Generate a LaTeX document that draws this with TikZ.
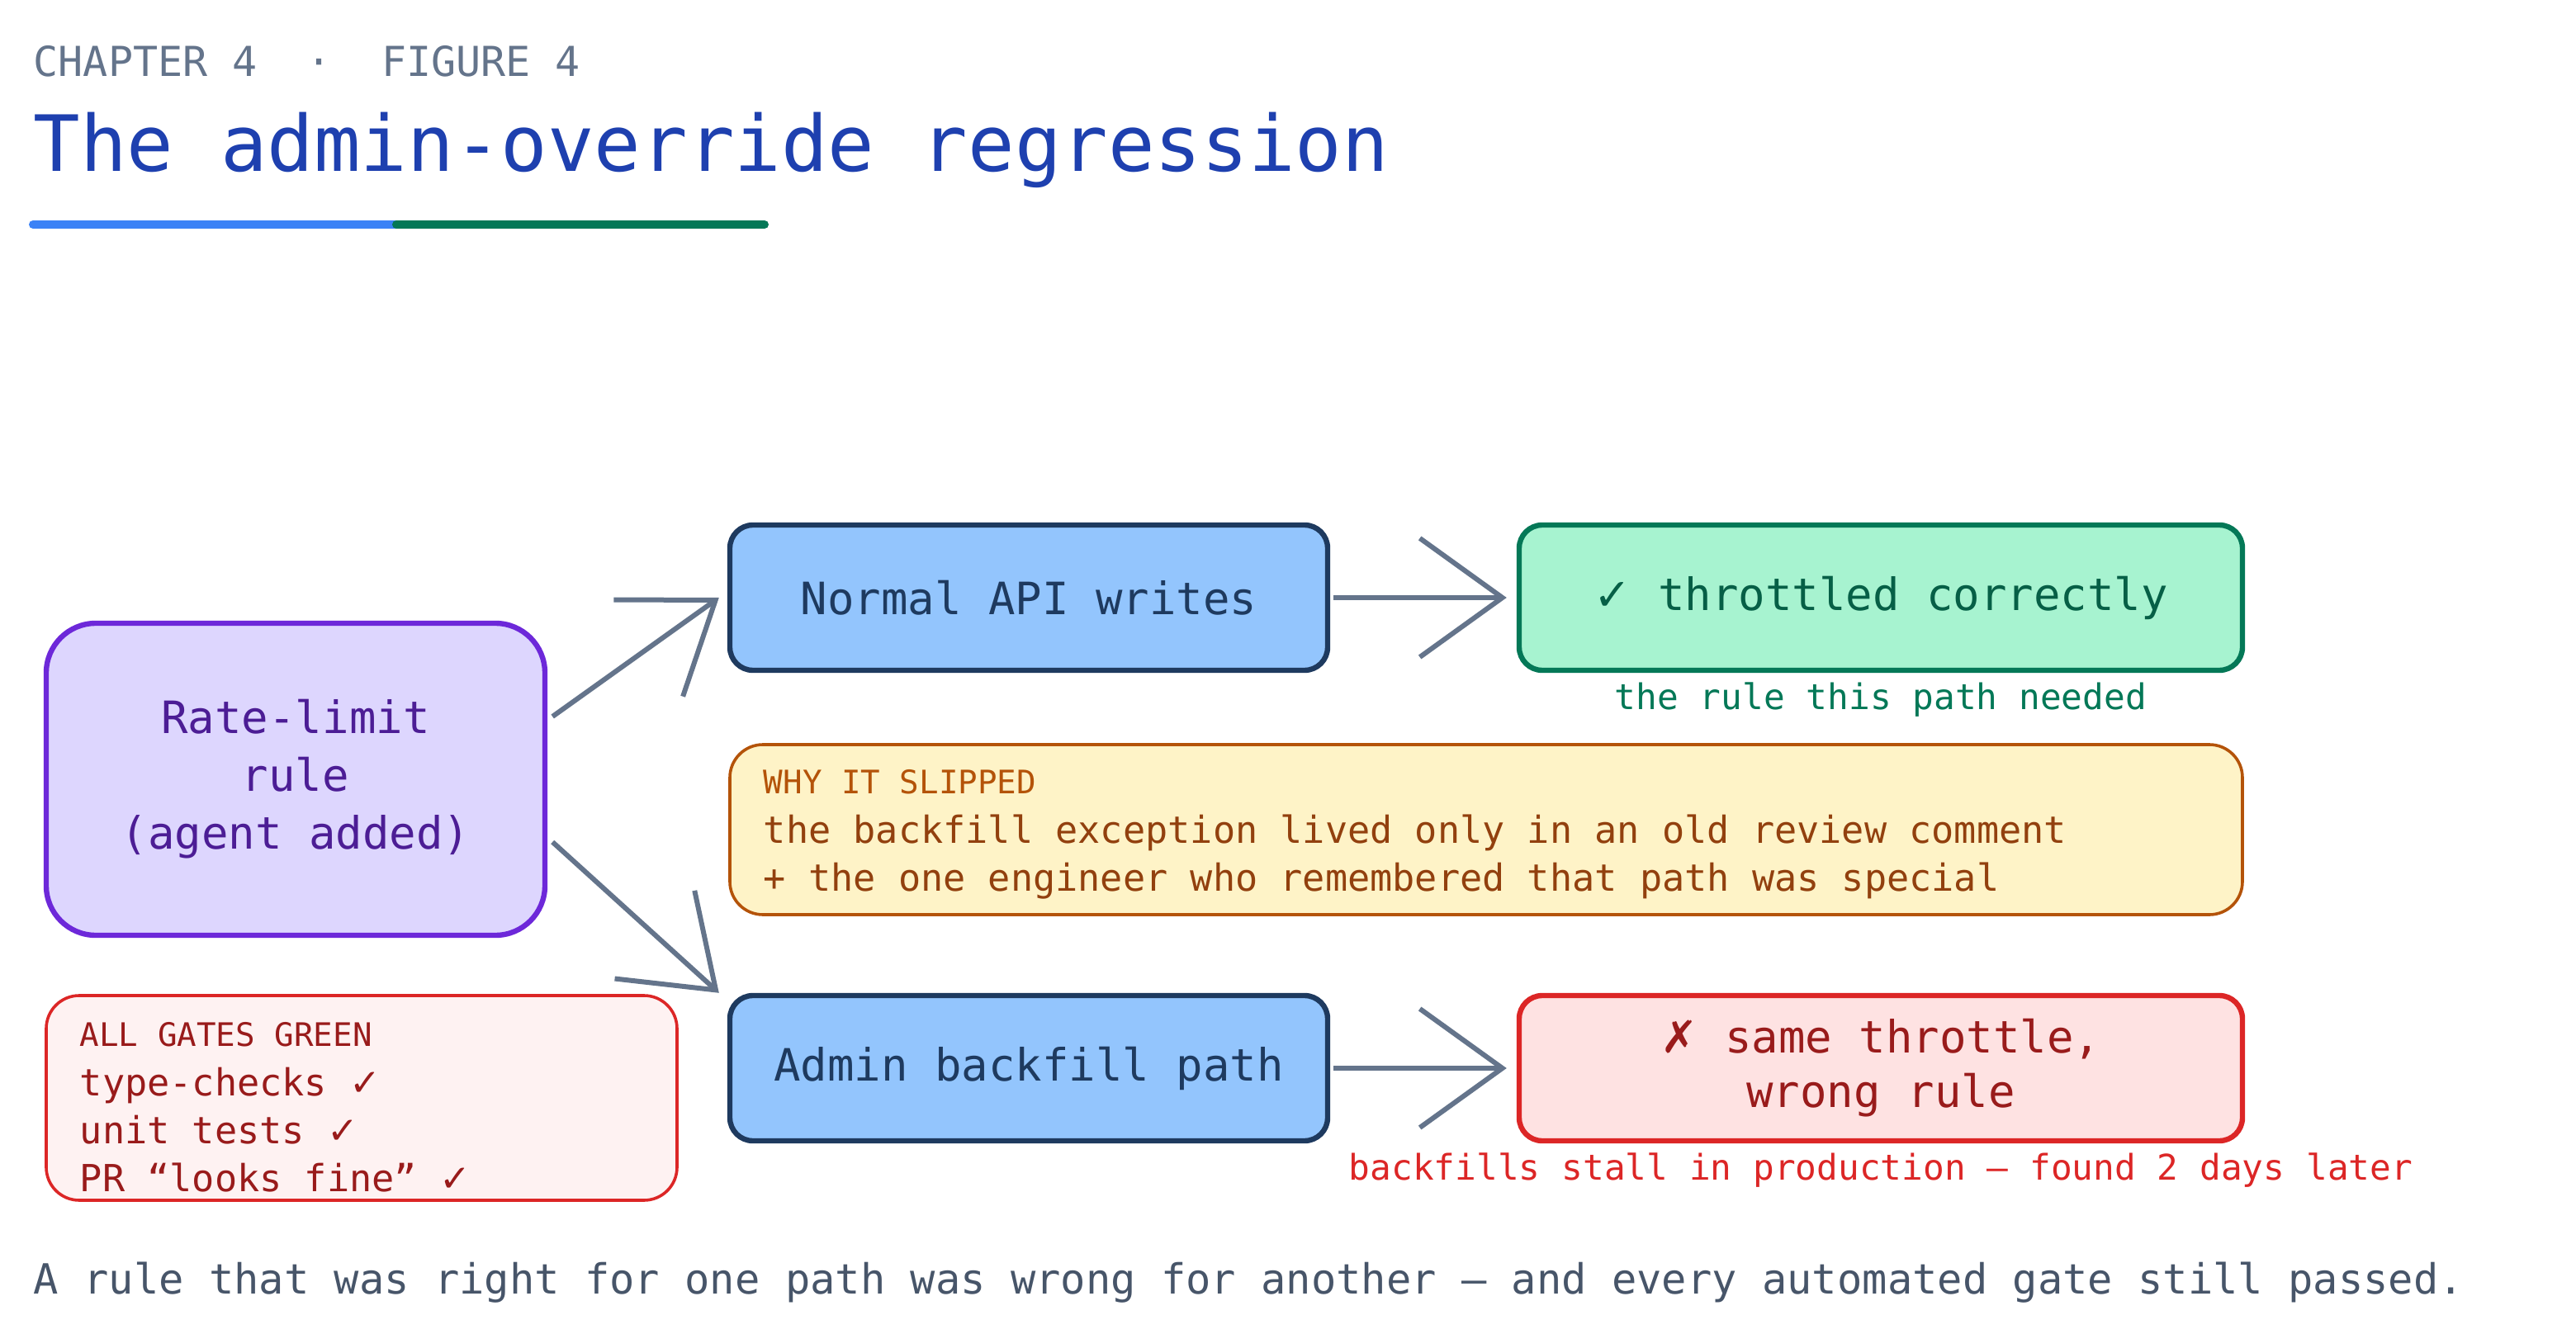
\documentclass[tikz,border=0pt]{standalone}
\usepackage{fontspec}
\setmonofont{DejaVu Sans Mono}
\newfontfamily\symfont{DejaVu Sans}
\usetikzlibrary{arrows.meta,positioning,calc}
\definecolor{inkgray}{HTML}{64748B}
\definecolor{titleblue}{HTML}{1E40AF}
\definecolor{capgray}{HTML}{475569}
\definecolor{rulefill}{HTML}{DDD6FE}
\definecolor{ruledraw}{HTML}{6D28D9}
\definecolor{ruletext}{HTML}{4C1D95}
\definecolor{pathfill}{HTML}{93C5FD}
\definecolor{pathdraw}{HTML}{1E3A5F}
\definecolor{okfill}{HTML}{A7F3D0}
\definecolor{okdraw}{HTML}{047857}
\definecolor{oktext}{HTML}{065F46}
\definecolor{badfill}{HTML}{FEE2E2}
\definecolor{baddraw}{HTML}{DC2626}
\definecolor{badtext}{HTML}{991B1B}
\definecolor{whyfill}{HTML}{FEF3C7}
\definecolor{whydraw}{HTML}{B45309}
\definecolor{whytext}{HTML}{92400E}
\definecolor{gatefill}{HTML}{FEF2F2}
\definecolor{lineblue}{HTML}{3B82F6}
\newcommand{\fs}[2]{\fontsize{#1}{#2}\selectfont}
\newcommand{\ck}{{\symfont ✓}}

\tikzset{
  box/.style={rounded corners=7pt, line width=1.6pt, font=\ttfamily\fs{13.5}{16.5}, align=center, inner sep=0pt},
  pathbox/.style={box, fill=pathfill, draw=pathdraw, text=pathdraw, minimum width=181pt, minimum height=44pt},
  note/.style={rounded corners=10pt, line width=0.9pt, minimum height=0pt},
  flow/.style={draw=inkgray, line width=1.5pt, -{Straight Barb[length=25pt,width=36pt,line width=1.5pt]}},
}

\begin{document}
\begin{tikzpicture}[x=0.5pt,y=0.5pt]
\useasboundingbox (0,0) rectangle (1560,-808);

% Heading
\node[anchor=west, text=inkgray, font=\ttfamily\fs{12.5}{15}, inner sep=0pt] (chapter) at (20,-37) {CHAPTER 4 \ · \ FIGURE 4};
\node[anchor=west, text=titleblue, font=\ttfamily\fs{23.5}{28}, inner sep=0pt] (title) at (20,-91) {The admin-override regression};
\draw[line width=2.5pt, line cap=round, color=lineblue] (20,-136) -- (240,-136);
\draw[line width=2.5pt, line cap=round, color=okdraw] (240,-136) -- (463,-136);

% Boxes
\node[box, rounded corners=15pt, fill=rulefill, draw=ruledraw, text=ruletext, minimum width=151pt, minimum height=94.5pt, font=\ttfamily\fs{13.5}{17.5}] (rule) at (179,-472) {Rate-limit\\rule\\(agent added)};
\node[pathbox] (normal) at (623,-362) {Normal API writes};
\node[pathbox] (admin) at (623,-647) {Admin backfill path};
\node[box, fill=okfill, draw=okdraw, text=oktext, minimum width=219pt, minimum height=44pt] (ok) at (1139,-362) {\ck{} throttled correctly};
\node[box, fill=badfill, draw=baddraw, text=badtext, minimum width=219pt, minimum height=44pt, font=\ttfamily\fs{13.5}{16.5}] (bad) at (1139,-647) {{\symfont ✗} same throttle,\\wrong rule};

% Side notes
\node[note, fill=whyfill, draw=whydraw, minimum width=458pt, minimum height=51.5pt] (why) at (900,-502.5) {};
\node[anchor=north west, inner sep=0pt, align=left, text=whydraw, font=\ttfamily\fs{9.8}{12}] (whyhead) at (462,-466) {WHY IT SLIPPED};
\node[anchor=north west, inner sep=0pt, align=left, text=whytext, font=\ttfamily\fs{11.3}{14.5}] (whybody) at (462,-493) {the backfill exception lived only in an old review comment\\+ the one engineer who remembered that path was special};

\node[note, fill=gatefill, draw=baddraw, minimum width=191pt, minimum height=62pt] (gates) at (219,-665) {};
\node[anchor=north west, inner sep=0pt, align=left, text=badtext, font=\ttfamily\fs{9.8}{12}] (gatehead) at (48,-619) {ALL GATES GREEN};
\node[anchor=north west, inner sep=0pt, align=left, text=badtext, font=\ttfamily\fs{11.3}{14.5}] (gatebody) at (48,-646) {type-checks \ck\\unit tests \ck\\PR “looks fine” \ck};

% Labels under results
\node[text=okdraw, font=\ttfamily\fs{10.7}{13}, inner sep=0pt] (oklabel) at (1139,-424) {the rule this path needed};
\node[text=baddraw, font=\ttfamily\fs{10.7}{13}, inner sep=0pt] (badlabel) at (1139,-709) {backfills stall in production — found 2 days later};

% Connectors
\draw[flow] ([yshift=19pt,xshift=1.5pt]rule.east) -- ([xshift=-2.5pt]normal.west);
\draw[flow] ([yshift=-19pt,xshift=1.5pt]rule.east) -- ([xshift=-2.5pt]admin.north west);
\draw[flow] ([xshift=1pt]normal.east) -- ([xshift=-3pt]ok.west);
\draw[flow] ([xshift=1pt]admin.east) -- ([xshift=-3pt]bad.west);

% Caption
\node[anchor=west, text=capgray, font=\ttfamily\fs{12.6}{15}, inner sep=0pt] (caption) at (20,-777) {A rule that was right for one path was wrong for another — and every automated gate still passed.};
\end{tikzpicture}
\end{document}
